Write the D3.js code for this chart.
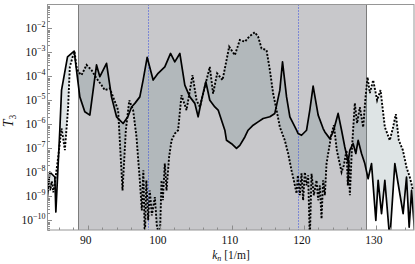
<!DOCTYPE html>
<html>
<head>
<meta charset="utf-8">
<script src="https://cdn.jsdelivr.net/npm/d3@7"></script>
<style>
  body { margin: 0; background: #fff; }
  svg { display: block; font-family: "Liberation Serif", "DejaVu Serif", serif; }
</style>
</head>
<body>
<svg id="chart" width="415" height="264"></svg>
<script>
// k_n [1/m] and log10 of T_3
var solidK = [84.26, 84.72, 85.42, 85.56, 86.11, 86.35, 87.18, 88.10, 88.89, 89.58, 90.28, 91.21, 91.67,
  92.60, 93.29, 93.99, 94.90, 95.56, 96.07, 96.53, 97.22, 97.68, 98.24, 99.07, 99.76, 100.69, 101.49,
  102.08, 102.78, 103.47, 104.17, 104.86, 105.32, 105.79, 106.39, 106.94, 107.64, 108.10, 109.03,
  109.26, 109.96, 110.65, 111.11, 111.81, 112.26, 112.96, 113.65, 114.35, 115.28, 115.97, 116.67,
  117.04, 117.60, 118.06, 118.99, 119.21, 119.68, 120.38, 120.83, 121.29, 121.99, 122.68, 122.92,
  123.61, 124.07, 124.76, 125.24, 125.69, 126.15, 126.39, 126.85, 127.22, 127.54, 128.01, 128.47,
  128.93, 129.40, 130.00, 130.32, 130.79, 131.25, 131.94, 132.64, 133.10, 133.79, 134.26, 134.63,
  134.96, 135.42];
var solidLog = [-9.44, -7.98, -8.19, -9.65, -6.24, -4.57, -3.18, -2.94, -4.85, -5.47, -5.61, -3.52, -4.01,
  -3.45, -4.85, -5.68, -5.96, -5.68, -5.27, -5.12, -4.85, -4.15, -3.20, -4.15, -3.87, -3.60, -3.04,
  -3.39, -3.04, -4.36, -4.85, -5.12, -5.68, -4.99, -4.22, -4.99, -5.27, -5.40, -6.24,
  -6.66, -6.80, -7.00, -6.87, -6.52, -6.24, -6.03, -5.89, -5.75, -5.68, -5.54, -4.57,
  -3.39, -4.85, -5.68, -6.24, -6.38, -6.45, -6.24, -5.40, -4.40, -5.61, -6.17, -6.31,
  -6.59, -6.31, -5.54, -6.24, -6.94, -7.56, -7.07, -6.80, -7.21, -6.66, -7.21, -7.63,
  -8.26, -7.63, -10.0, -8.33, -9.72, -8.33, -10.8, -7.63, -8.47, -9.72, -8.19, -10.28,
  -8.75, -10.6];

var dottedK = [84.30, 84.58, 84.79, 85.00, 85.21, 85.42, 85.83, 86.35, 86.57, 86.81, 87.26, 87.50, 87.96,
  88.19, 88.43, 88.65, 89.13, 89.82, 90.51, 91.21, 91.90, 92.36, 93.06, 93.51, 94.21, 94.82, 95.28,
  95.76, 96.29, 96.76, 97.22, 97.50, 97.71, 97.92, 98.13, 98.38, 98.61, 98.89, 99.31, 99.58, 100.00,
  100.24, 100.42, 100.69, 100.93, 101.29, 101.63, 102.08, 102.54, 103.01, 103.71, 104.54, 105.10,
  105.56, 106.25, 106.94, 107.40, 107.96, 108.71, 109.26, 109.63, 110.42, 111.11, 111.81, 112.40,
  113.19, 113.65, 114.13, 114.82, 115.28, 115.74, 116.21, 116.67, 117.36, 117.82, 118.29, 118.61,
  118.99, 119.17, 119.44, 119.68, 119.90, 120.14, 120.38, 120.60, 120.83, 121.07, 121.39, 121.76,
  121.99, 122.22, 122.46, 122.68, 122.92, 123.15, 123.61, 123.85, 124.17, 124.58, 125.24, 125.56,
  125.93, 126.11, 126.25, 126.39, 126.67, 127.08, 127.40, 127.78, 128.24, 128.57, 128.85, 129.17,
  129.63, 130.18, 130.65, 131.25, 131.94, 132.36, 132.78, 133.19, 133.75, 134.26, 134.72, 135.18];
var dottedLog = [-8.54, -8.24, -8.75, -8.37, -8.83, -8.45, -7.49, -6.16, -6.57, -7.07, -5.32, -3.60, -3.11,
  -3.04, -3.60, -3.80, -3.94, -3.52, -3.73, -4.08, -4.36, -4.57, -4.50, -4.85, -5.40, -8.75, -6.24,
  -4.99, -5.40, -6.52, -8.33, -9.58, -7.91, -10.8, -8.33, -9.99, -8.75, -9.79, -9.03, -10.2, -10.8,
  -8.33, -9.16, -7.63, -8.75, -7.35, -6.66, -6.38, -6.24, -4.78, -5.40, -3.94, -4.99,
  -5.27, -4.43, -3.60, -4.71, -3.87, -4.15, -3.32, -2.76, -3.11, -2.48, -2.55, -2.34,
  -2.16, -2.34, -2.83, -2.90, -3.73, -4.71, -5.40, -6.11, -6.66, -7.21, -7.91, -8.33,
  -8.88, -8.12, -8.95, -8.04, -9.16, -7.99, -8.54, -8.12, -10.8, -8.05, -8.95, -8.33,
  -9.16, -8.54, -9.93, -8.33, -8.95, -7.63, -6.80, -6.38, -6.03, -7.07, -7.99, -7.70,
  -7.07, -8.54, -7.49, -8.95, -7.07, -5.11, -5.95, -5.28, -6.11, -4.86, -4.03, -4.69,
  -4.15, -4.99, -4.57, -6.11, -6.66, -6.16, -5.57, -6.66, -7.07, -7.78, -8.20, -8.75];

var bandK = [88.65, 128.57];
var markerK = [98.38, 119.13];
var xTicks = [90, 100, 110, 120, 130];
var yDecades = [-2, -3, -4, -5, -6, -7, -8, -9, -10];

var width = 415, height = 264
  , margin = {top: 4.5, right: 1, bottom: 34, left: 47.5};
var x0 = margin.left, x1 = width - margin.right
  , y0 = height - margin.bottom, y1 = margin.top;

var x = d3.scaleLinear()
    .domain([84.4, 135.3])
    .range([x0, x1]);
var y = d3.scaleLog()
    .domain([4e-11, 0.1])
    .range([y0, y1]);

var solid = solidK.map(function(k, i){ return [k, Math.pow(10, solidLog[i])]; });
var dotted = dottedK.map(function(k, i){ return [k, Math.pow(10, dottedLog[i])]; });

// snap vertical rules to the pixel grid
function xPix(k) { return Math.round(x(k)) + 0.5; }

var svg = d3.select("#chart");

svg.append("clipPath")
    .attr("id", "plot-clip")
  .append("rect")
    .attr("x", x0)
    .attr("y", y1)
    .attr("width", x1 - x0)
    .attr("height", y0 - y1);

var plot = svg.append("g")
    .attr("clip-path", "url(#plot-clip)");

// shaded k range
plot.append("rect")
    .attr("x", xPix(bandK[0]))
    .attr("y", y1)
    .attr("width", xPix(bandK[1]) - xPix(bandK[0]))
    .attr("height", y0 - y1)
    .attr("fill", "#c8c8cb");
plot.selectAll(".band-edge")
    .data(bandK)
  .enter().append("line")
    .classed("band-edge", true)
    .attr("x1", xPix)
    .attr("x2", xPix)
    .attr("y1", y1)
    .attr("y2", y0)
    .attr("stroke", "#7c7c7c")
    .attr("stroke-width", 1);

var line = d3.line()
    .x(function(d){ return x(d[0]); })
    .y(function(d){ return y(d[1]); });

// area between the two curves: solid forward, dotted back
plot.append("path")
    .attr("d", line(solid.concat(dotted.slice().reverse())) + "Z")
    .attr("fill", "#5a787d")
    .attr("fill-opacity", 0.2)
    .attr("stroke", "none");

plot.selectAll(".marker")
    .data(markerK)
  .enter().append("line")
    .classed("marker", true)
    .attr("x1", xPix)
    .attr("x2", xPix)
    .attr("y1", y1)
    .attr("y2", y0)
    .attr("stroke", "#3048e0")
    .attr("stroke-width", 1)
    .attr("stroke-dasharray", "1,2");

plot.append("path")
    .attr("d", line(dotted))
    .attr("fill", "none")
    .attr("stroke", "#000")
    .attr("stroke-width", 1.9)
    .attr("stroke-dasharray", "2,1.6");

plot.append("path")
    .attr("d", line(solid))
    .attr("fill", "none")
    .attr("stroke", "#000")
    .attr("stroke-width", 1.7)
    .attr("stroke-linejoin", "round");

// ticks, drawn inward
var ticks = svg.append("g")
    .attr("stroke", "#8c8c8c")
    .attr("stroke-width", 1);
var xMinor = d3.range(86, 136, 2);
ticks.selectAll(".xt")
    .data(xMinor)
  .enter().append("line")
    .attr("x1", xPix)
    .attr("x2", xPix)
    .attr("y1", y0)
    .attr("y2", function(d){ return y0 - (d % 10 == 0 ? 4.5 : 2.5); });

var yMinor = [];
for (var e = -11; e <= -2; e++) {
  for (var m = 1; m < 10; m++) yMinor.push({v: m * Math.pow(10, e), major: m == 1});
}
ticks.selectAll(".yt")
    .data(yMinor.filter(function(d){ return d.v >= 4e-11 && d.v <= 0.1; }))
  .enter().append("line")
    .attr("x1", x0)
    .attr("x2", function(d){ return x0 + (d.major ? 4.5 : 2.5); })
    .attr("y1", function(d){ return Math.round(y(d.v)) + 0.5; })
    .attr("y2", function(d){ return Math.round(y(d.v)) + 0.5; });

// frame
svg.append("rect")
    .attr("x", x0)
    .attr("y", y1)
    .attr("width", x1 - x0)
    .attr("height", y0 - y1)
    .attr("fill", "none")
    .attr("stroke", "#969696")
    .attr("stroke-width", 1);

svg.selectAll(".xlabel")
    .data(xTicks)
  .enter().append("text")
    .attr("x", function(d){ return x(d) - 2; })
    .attr("y", 243.5)
    .attr("text-anchor", "middle")
    .attr("font-size", "11.5px")
    .attr("fill", "#111")
    .text(function(d){ return d; });

var ylab = svg.selectAll(".ylabel")
    .data(yDecades)
  .enter().append("text")
    .attr("x", 45.5)
    .attr("y", function(d){ return y(Math.pow(10, d)) + 4; })
    .attr("text-anchor", "end")
    .attr("font-size", "11.5px")
    .attr("fill", "#111");
ylab.append("tspan").text("10");
ylab.append("tspan")
    .attr("dy", -5)
    .attr("font-size", "8px")
    .text(function(d){ return "\u2212" + (-d); });

var xt = svg.append("text")
    .attr("x", 231)
    .attr("y", 258.5)
    .attr("text-anchor", "middle")
    .attr("font-size", "11.5px")
    .attr("fill", "#111");
xt.append("tspan").attr("font-style", "italic").text("k");
xt.append("tspan").attr("font-style", "italic").attr("font-size", "8px").attr("dy", 2).text("n");
xt.append("tspan").attr("dy", -2).text(" [1/m]");

var yt = svg.append("text")
    .attr("transform", "translate(13,121) rotate(-90)")
    .attr("text-anchor", "middle")
    .attr("font-size", "14px")
    .attr("fill", "#111");
yt.append("tspan").attr("font-style", "italic").text("T");
yt.append("tspan").attr("font-size", "9.5px").attr("dy", 2.5).text("3");
</script>
</body>
</html>
